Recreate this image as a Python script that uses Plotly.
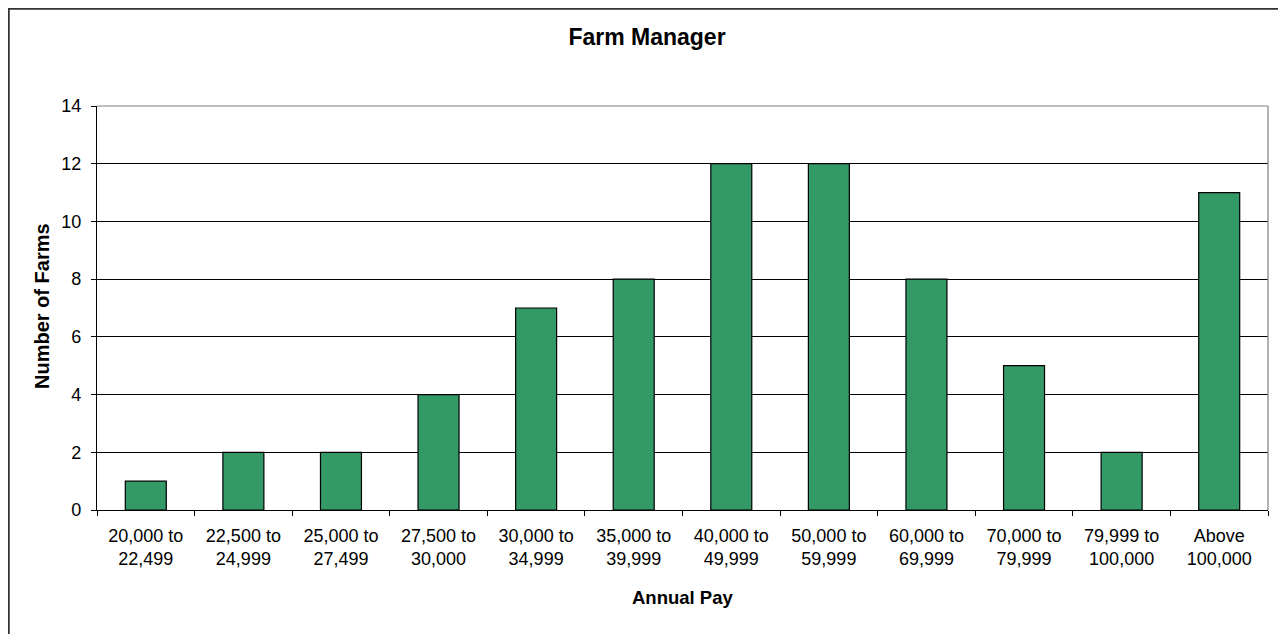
import plotly.graph_objects as go

rangos = ["20,000 to<br>22,499", "22,500 to<br>24,999", "25,000 to<br>27,499",
          "27,500 to<br>30,000", "30,000 to<br>34,999", "35,000 to<br>39,999",
          "40,000 to<br>49,999", "50,000 to<br>59,999", "60,000 to<br>69,999",
          "70,000 to<br>79,999", "79,999 to<br>100,000", "Above<br>100,000"]
granjas = [1, 2, 2, 4, 7, 8, 12, 12, 8, 5, 2, 11]
y_ticks = [0, 2, 4, 6, 8, 10, 12, 14]

# la página tiene un margen de 8px en el body: la figura ocupa 1278x626
W, H = 1278, 626
ml, mr, mt, mb = 89, 18, 98, 124
pw, ph = W - ml - mr, H - mt - mb


def px_x(fx):
    return (fx - ml) / pw


def px_y(fy):
    return (H - mb - fy) / ph


fig = go.Figure()
fig.add_trace(go.Bar(x=rangos, y=granjas, width=0.42,
                     marker=dict(color="#339966", line=dict(color="black", width=1.2))))

fig.update_layout(
    width=W, height=H,
    margin=dict(l=ml, r=mr, t=mt, b=mb),
    paper_bgcolor="white", plot_bgcolor="white",
    font=dict(family="Liberation Sans, Arial", size=18, color="black"),
    title=dict(text="<b>Farm Manager</b>", x=0.5, xanchor="center", y=1 - 29 / H, yanchor="middle",
               font=dict(size=23)),
    showlegend=False,
    xaxis=dict(type="category", tickson="boundaries", ticks="outside", ticklen=5,
               tickcolor="black", showline=True, linecolor="black", linewidth=1.2,
               showgrid=False, tickangle=0, ticklabelstandoff=9),
    yaxis=dict(range=[0, 14], tickvals=y_ticks, ticks="outside", ticklen=5, tickcolor="black",
               showline=True, linecolor="black", linewidth=1.2, ticklabelstandoff=6,
               showgrid=True, gridcolor="black", gridwidth=1, zeroline=False),
    annotations=[
        dict(text="<b>Annual Pay</b>", xref="paper", yref="paper", x=px_x(674), y=px_y(589),
             xanchor="center", yanchor="middle", showarrow=False, font=dict(size=18.5)),
        dict(text="<b>Number of Farms</b>", xref="paper", yref="paper", x=px_x(34), y=px_y(298),
             xanchor="center", yanchor="middle", showarrow=False, textangle=-90,
             font=dict(size=20)),
    ],
    shapes=[
        # borde del área de trazado (gris)
        dict(type="line", xref="paper", yref="paper", x0=0, x1=1, y0=1, y1=1,
             line=dict(color="#808080", width=1.2)),
        dict(type="line", xref="paper", yref="paper", x0=1, x1=1, y0=0, y1=1,
             line=dict(color="#808080", width=1.2)),
        # borde exterior del gráfico (el borde inferior queda fuera de la imagen)
        dict(type="rect", xref="paper", yref="paper",
             x0=px_x(0.75), x1=px_x(1275), y0=px_y(640), y1=px_y(0.75),
             line=dict(color="#333333", width=2)),
    ],
)

fig.write_html("out.html")
